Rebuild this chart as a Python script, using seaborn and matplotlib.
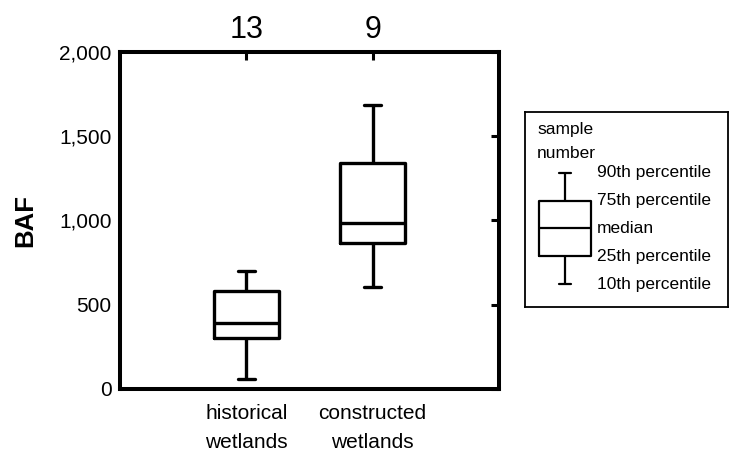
import numpy as np
import pandas as pd
import matplotlib
matplotlib.use("Agg")
import matplotlib.pyplot as plt
import matplotlib.transforms as mtransforms
import seaborn as sns

# Percentile summaries of BAF per wetland type: 10th, 25th, 50th, 75th, 90th
categories = ["historical\nwetlands", "constructed\nwetlands"]
historical_pct = [61, 300, 391, 583, 703]
constructed_pct = [608, 869, 987, 1339, 1687]
sample_sizes = ["13", "9"]

y_ticks = [0, 500, 1000, 1500, 2000]
y_tick_labels = ["0", "500", "1,000", "1,500", "2,000"]

# Key box values (10th .. 90th) and their descriptions
key_values = [1, 2, 3, 4, 5]
key_labels = ["10th percentile", "25th percentile", "median",
              "75th percentile", "90th percentile"]

sns.set_theme(style="white")
plt.rcParams["font.family"] = ["Liberation Sans", "DejaVu Sans"]
plt.rcParams.update({
    "text.color": "black",
    "axes.labelcolor": "black",
    "xtick.color": "black",
    "ytick.color": "black",
})

df = pd.DataFrame({
    "group": [categories[0]] * len(historical_pct) + [categories[1]] * len(constructed_pct),
    "BAF": historical_pct + constructed_pct,
})

fig = plt.figure(figsize=(7.29, 4.51), dpi=100)
ax = fig.add_axes([0.1646, 0.1375, 0.5199, 0.7472])

# whiskers span the full range of the 5 summary values (10th to 90th percentile)
sns.boxplot(data=df, x="group", y="BAF", order=categories, whis=(0, 100),
            width=0.51, fill=False, color="black", linewidth=2.4,
            capwidths=0.135, ax=ax)

ax.set_xlim(-1, 2)
ax.set_ylim(0, 2000)
ax.set_yticks(y_ticks)
ax.set_yticklabels(y_tick_labels)
ax.set_xlabel("")
ax.set_ylabel("BAF", fontsize=18.5, fontweight="bold", labelpad=16, color="black")

for s in ax.spines.values():
    s.set_visible(True)
    s.set_linewidth(2.9)
    s.set_color("black")

ax.tick_params(axis="both", direction="in", length=6, width=2.2, color="black",
               labelsize=15, labelcolor="black")
ax.tick_params(axis="y", right=True, pad=6)
ax.tick_params(axis="x", top=True, pad=11)
for lbl in ax.get_xticklabels():
    lbl.set_linespacing(1.68)

# sample counts above the plot
top = ax.secondary_xaxis("top")
top.set_xticks([0, 1])
top.set_xticklabels(sample_sizes)
top.tick_params(direction="in", length=0, pad=5, labelsize=22, labelcolor="black")
top.spines["top"].set_visible(False)

# ---- Key panel ----
frame = fig.add_axes([0.7202, 0.3193, 0.2785, 0.4324])
frame.set_xticks([])
frame.set_yticks([])
frame.set_facecolor("none")
for s in frame.spines.values():
    s.set_linewidth(1.3)
    s.set_color("black")
frame.text(0.059, 0.91, "sample", fontsize=12.5, ha="left", va="center",
           color="black", transform=frame.transAxes)
frame.text(0.059, 0.785, "number", fontsize=12.5, ha="left", va="center",
           color="black", transform=frame.transAxes)

key_ax = fig.add_axes([0.727, 0.3395, 0.096, 0.3077])
sns.boxplot(y=key_values, whis=(0, 100), width=0.73, fill=False, color="black",
            linewidth=1.6, capwidths=0.17, ax=key_ax)
key_ax.set_xlim(-0.5, 0.5)
key_ax.set_ylim(0.5, 5.5)
key_ax.axis("off")
trans = mtransforms.blended_transform_factory(key_ax.transAxes, key_ax.transData)
for v, lab in zip(key_values, key_labels):
    key_ax.text(0.957, v, lab, fontsize=12.5, ha="left", va="center",
                color="black", transform=trans)

fig.savefig("out.png", dpi=100)
